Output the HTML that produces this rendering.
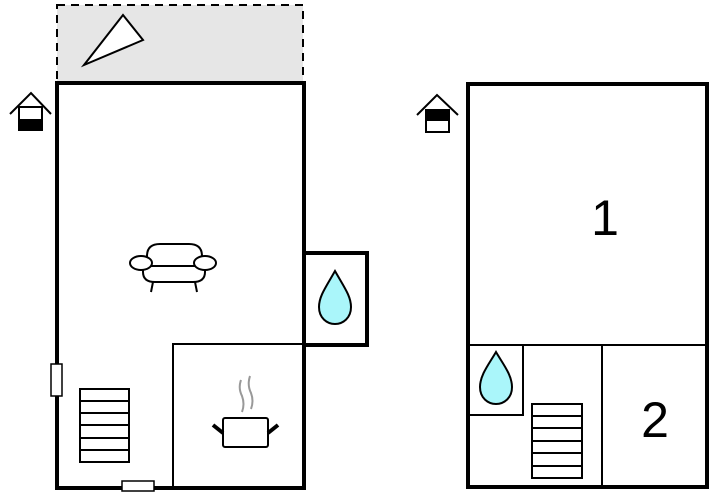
<!DOCTYPE html>
<html><head><style>html,body{margin:0;padding:0;background:#fff}svg{display:block}</style></head><body>
<svg width="711" height="500" viewBox="0 0 711 500" xmlns="http://www.w3.org/2000/svg">
<rect x="57" y="5" width="246" height="78" fill="#e6e6e6" stroke="#000" stroke-width="2" stroke-dasharray="8,6"/>
<polygon points="123,15 143,40 84,65" fill="#fff" stroke="#000" stroke-width="2"/>
<g stroke="#000" stroke-width="2" fill="none"><polyline points="10,114 31,93 51,114"/></g>
<rect x="19" y="107" width="23" height="23" fill="#fff" stroke="#000" stroke-width="2"/>
<rect x="19" y="119" width="23" height="11" fill="#000"/>
<rect x="304" y="253" width="63" height="92" fill="#fff" stroke="#000" stroke-width="4"/>
<rect x="57" y="83" width="247" height="405" fill="none" stroke="#000" stroke-width="4"/>
<polyline points="173,488 173,344 304,344" fill="none" stroke="#000" stroke-width="2"/>
<rect x="51" y="364" width="11" height="32" fill="#fff" stroke="#000" stroke-width="1.5"/>
<rect x="122" y="481" width="32" height="10" fill="#fff" stroke="#000" stroke-width="1.5"/>
<path d="M335,271 C326,287 319,296 319,307 C319,318 327,324 335,324 C343,324 351,318 351,307 C351,296 344,287 335,271Z" fill="#aaf6fa" stroke="#000" stroke-width="2"/>
<g fill="#fff" stroke="#000" stroke-width="2">
<rect x="80" y="389" width="49" height="73"/>
<line x1="80" y1="401" x2="129" y2="401"/><line x1="80" y1="413" x2="129" y2="413"/><line x1="80" y1="425" x2="129" y2="425"/><line x1="80" y1="438" x2="129" y2="438"/><line x1="80" y1="450" x2="129" y2="450"/>
</g>
<g fill="none" stroke="#000" stroke-width="2">
<path d="M147,266 L147,256 Q147,244 160,244 L189,244 Q202,244 202,256 L202,266"/>
<path d="M143,266 L143,272 Q143,282 155,282 L193,282 Q205,282 205,272 L205,266"/>
<line x1="150" y1="266" x2="198" y2="266"/>
<ellipse cx="141" cy="263" rx="11" ry="7" fill="#fff"/>
<ellipse cx="205" cy="263" rx="11" ry="7" fill="#fff"/>
<line x1="153" y1="282" x2="151" y2="292"/><line x1="195" y1="282" x2="197" y2="292"/>
</g>
<g fill="none" stroke="#999" stroke-width="2">
<path d="M241,380 Q238,388 242,396 Q245,404 242,412"/>
<path d="M250,376 Q247,385 251,393 Q254,401 251,409"/>
</g>
<rect x="223" y="418" width="45" height="29" rx="2" fill="#fff" stroke="#000" stroke-width="2"/>
<line x1="213" y1="425" x2="223" y2="433" stroke="#000" stroke-width="4"/>
<line x1="268" y1="433" x2="278" y2="425" stroke="#000" stroke-width="4"/>

<polyline points="417,115 437,95 458,115" fill="none" stroke="#000" stroke-width="2"/>
<rect x="426" y="110" width="23" height="22" fill="#fff" stroke="#000" stroke-width="2"/>
<rect x="426" y="110" width="23" height="11" fill="#000"/>
<rect x="468" y="84" width="239" height="403" fill="none" stroke="#000" stroke-width="4"/>
<line x1="468" y1="345" x2="707" y2="345" stroke="#000" stroke-width="2"/>
<line x1="602" y1="345" x2="602" y2="487" stroke="#000" stroke-width="2"/>
<polyline points="470,415 523,415 523,345" fill="none" stroke="#000" stroke-width="2"/>
<path d="M496,352 C489,364 480,375 480,387 C480,398 488,404 496,404 C504,404 512,398 512,387 C512,375 503,364 496,352Z" fill="#aaf6fa" stroke="#000" stroke-width="2"/>
<g fill="#fff" stroke="#000" stroke-width="2">
<rect x="532" y="404" width="50" height="74"/>
<line x1="532" y1="416" x2="582" y2="416"/><line x1="532" y1="428" x2="582" y2="428"/><line x1="532" y1="441" x2="582" y2="441"/><line x1="532" y1="453" x2="582" y2="453"/><line x1="532" y1="466" x2="582" y2="466"/>
</g>
<text x="605" y="235" font-family="Liberation Sans, sans-serif" font-size="50" text-anchor="middle">1</text>
<text x="655" y="437" font-family="Liberation Sans, sans-serif" font-size="50" text-anchor="middle">2</text>
</svg>
</body></html>
